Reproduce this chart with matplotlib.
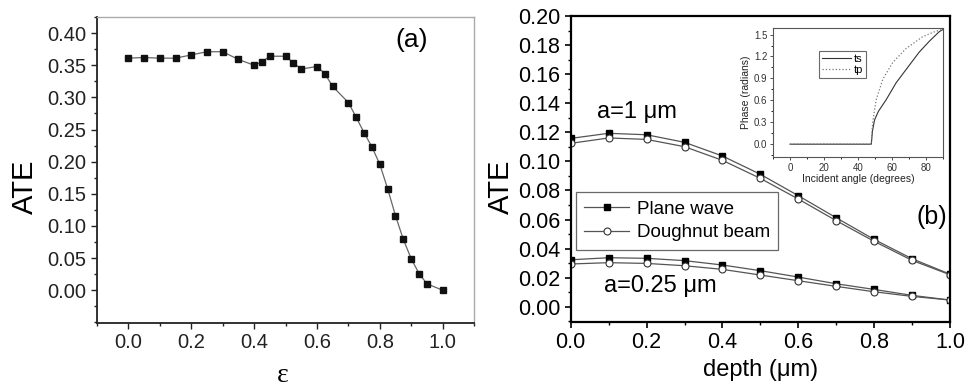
import matplotlib
matplotlib.use("Agg")
import matplotlib.pyplot as plt
from matplotlib.ticker import MultipleLocator
from matplotlib.lines import Line2D

plt.rcParams['font.family'] = ['Liberation Sans', 'DejaVu Sans']

# ---- Panel (a) data ----
eps = [0.0, 0.05, 0.1, 0.15, 0.2, 0.25, 0.3, 0.35, 0.4, 0.425, 0.45, 0.5, 0.525,
       0.55, 0.6, 0.625, 0.65, 0.7, 0.725, 0.75, 0.775, 0.8, 0.825, 0.85, 0.875,
       0.9, 0.925, 0.95, 1.0]
ate_a = [0.361, 0.362, 0.361, 0.361, 0.366, 0.371, 0.371, 0.359, 0.350, 0.355,
         0.364, 0.364, 0.354, 0.344, 0.348, 0.337, 0.317, 0.292, 0.269, 0.245,
         0.223, 0.196, 0.158, 0.116, 0.079, 0.049, 0.026, 0.010, 0.000]

# ---- Panel (b) data ----
depth = [0.0, 0.1, 0.2, 0.3, 0.4, 0.5, 0.6, 0.7, 0.8, 0.9, 1.0]
plane_a1 = [0.1158, 0.1193, 0.1183, 0.1131, 0.1037, 0.0911, 0.0764, 0.0612, 0.0463, 0.0330, 0.0224]
dough_a1 = [0.1124, 0.1161, 0.1151, 0.1101, 0.1007, 0.0883, 0.0741, 0.0592, 0.0450, 0.0319, 0.0220]
plane_a025 = [0.0323, 0.0337, 0.0333, 0.0317, 0.0287, 0.0248, 0.0204, 0.0158, 0.0119, 0.0078, 0.0046]
dough_a025 = [0.0294, 0.0303, 0.0298, 0.0282, 0.0257, 0.0218, 0.0179, 0.0140, 0.0103, 0.0071, 0.0046]

# ---- Inset data ----
ang_ts = [0, 10, 20, 30, 40, 47.8, 48.5, 49.7, 52, 56.6, 62.4, 69.2, 76, 82, 87.8, 90]
ts = [0, 0, 0, 0, 0, 0, 0.18, 0.33, 0.45, 0.61, 0.84, 1.05, 1.26, 1.41, 1.54, 1.57]
ang_tp = [0, 10, 20, 30, 40, 47.8, 48.3, 48.8, 50.7, 54.6, 60.5, 68.3, 78, 84, 87.8, 90]
tp = [0, 0, 0, 0, 0, 0, 0.20, 0.33, 0.61, 0.89, 1.12, 1.31, 1.47, 1.53, 1.56, 1.57]

fig = plt.figure(figsize=(9.67, 3.91), dpi=100)

# ===== Panel (a) =====
ax1 = fig.add_axes([0.1003, 0.1739, 0.3899, 0.7826])
ax1.plot(eps, ate_a, '-', color='#666666', lw=0.9, marker='s', ms=4.6,
         mfc='#111111', mec='#111111')
ax1.set_xlim(-0.1, 1.1)
ax1.set_ylim(-0.051, 0.425)
ax1.xaxis.set_minor_locator(MultipleLocator(0.1))
ax1.yaxis.set_minor_locator(MultipleLocator(0.025))
ax1.set_xticks([0.0, 0.2, 0.4, 0.6, 0.8, 1.0])
ax1.set_xticklabels(['0.0', '0.2', '0.4', '0.6', '0.8', '1.0'])
ax1.set_yticks([0.0, 0.05, 0.1, 0.15, 0.2, 0.25, 0.3, 0.35, 0.4])
ax1.set_yticklabels(['0.00', '0.05', '0.10', '0.15', '0.20', '0.25', '0.30', '0.35', '0.40'])
ax1.tick_params(which='major', direction='out', length=4.5, width=1.0, labelsize=14.5,
                colors='#222222', top=False, right=False, pad=3)
ax1.tick_params(which='minor', direction='out', length=2.5, width=1.0,
                colors='#222222', top=False, right=False)
for s in ['left', 'bottom']:
    ax1.spines[s].set_color('#222222')
    ax1.spines[s].set_linewidth(1.3)
for s in ['top', 'right']:
    ax1.spines[s].set_color('#aaaaaa')
    ax1.spines[s].set_linewidth(1.0)
ax1.text(0.9, 0.39, '(a)', fontsize=19, ha='center', va='center')
fig.text(25 / 967, 1 - 187 / 391, 'ATE', fontsize=21, rotation=90, ha='center', va='center')
fig.text(283 / 967, 1 - 376 / 391, 'ε', fontsize=20, family=['Liberation Serif', 'DejaVu Serif'],
         ha='center', va='center')

# ===== Panel (b) =====
ax2 = fig.add_axes([0.5902, 0.1765, 0.3922, 0.7826])
lc = '#555555'
ax2.plot(depth, plane_a1, '-', color=lc, lw=0.9, marker='s', ms=5, mfc='black', mec='black')
ax2.plot(depth, dough_a1, '-', color=lc, lw=0.9, marker='o', ms=5, mfc='white', mec='#333333', mew=0.8)
ax2.plot(depth, plane_a025, '-', color=lc, lw=0.9, marker='s', ms=5, mfc='black', mec='black')
ax2.plot(depth, dough_a025, '-', color=lc, lw=0.9, marker='o', ms=5, mfc='white', mec='#333333', mew=0.8)
ax2.set_xlim(0, 1.0)
ax2.set_ylim(-0.0105, 0.20)
ax2.xaxis.set_minor_locator(MultipleLocator(0.1))
ax2.yaxis.set_minor_locator(MultipleLocator(0.01))
ax2.set_xticks([0.0, 0.2, 0.4, 0.6, 0.8, 1.0])
ax2.set_xticklabels(['0.0', '0.2', '0.4', '0.6', '0.8', '1.0'])
ax2.set_yticks([0.0, 0.02, 0.04, 0.06, 0.08, 0.10, 0.12, 0.14, 0.16, 0.18, 0.20])
ax2.set_yticklabels(['0.00', '0.02', '0.04', '0.06', '0.08', '0.10', '0.12', '0.14',
                     '0.16', '0.18', '0.20'])
ax2.tick_params(which='major', direction='out', length=4.5, width=1.2, labelsize=15.5,
                colors='black', top=False, right=False, pad=3)
ax2.tick_params(which='minor', direction='out', length=2.5, width=1.0,
                top=False, right=False)
for s in ax2.spines.values():
    s.set_color('black')
    s.set_linewidth(1.6)
ax2.text(0.069, 0.130, 'a=1 μm', fontsize=17, ha='left', va='baseline')
ax2.text(0.088, 0.010, 'a=0.25 μm', fontsize=17, ha='left', va='baseline')
ax2.text(0.952, 0.062, '(b)', fontsize=18, ha='center', va='center')
h1 = Line2D([], [], color=lc, lw=0.9, marker='s', ms=5, mfc='black', mec='black')
h2 = Line2D([], [], color=lc, lw=0.9, marker='o', ms=5, mfc='white', mec='#333333', mew=0.8)
leg = ax2.legend([h1, h2], ['Plane wave', 'Doughnut beam'], loc='upper left',
                 bbox_to_anchor=(0.013, 0.425), fontsize=13.5, frameon=True, fancybox=False,
                 edgecolor='#444444', handlelength=2.4, handletextpad=0.4,
                 borderpad=0.45, labelspacing=0.35, borderaxespad=0)
leg.get_frame().set_linewidth(0.9)
fig.text(500.7 / 967, 1 - 187 / 391, 'ATE', fontsize=21, rotation=90, ha='center', va='center')
fig.text(760.7 / 967, 1 - 370 / 391, 'depth (μm)', fontsize=17, ha='center', va='center')

# ===== Inset =====
ax3 = fig.add_axes([0.7994, 0.5985, 0.1758, 0.3299])
ax3.plot(ang_ts, ts, '-', color='#333333', lw=0.8, label='ts')
ax3.plot(ang_tp, tp, ':', color='#777777', lw=0.9, label='tp')
ax3.set_xlim(-10, 90)
ax3.set_ylim(-0.175, 1.59)
ax3.set_xticks([0, 20, 40, 60, 80])
ax3.xaxis.set_minor_locator(MultipleLocator(10))
ax3.set_yticks([0.0, 0.3, 0.6, 0.9, 1.2, 1.5])
ax3.set_yticklabels(['0.0', '0.3', '0.6', '0.9', '1.2', '1.5'])
ax3.yaxis.set_minor_locator(MultipleLocator(0.15))
ax3.tick_params(which='major', direction='out', length=2.5, width=0.6, labelsize=7,
                colors='#333333', pad=1.5, top=False, right=False)
ax3.tick_params(which='minor', direction='out', length=1.5, width=0.6, top=False, right=False)
for s in ax3.spines.values():
    s.set_color('#555555')
    s.set_linewidth(0.8)
ax3.set_xlabel('Incident angle (degrees)', fontsize=7.5, labelpad=1, color='#222222')
ax3.set_ylabel('Phase (radians)', fontsize=7.5, labelpad=2, color='#222222')
lg3 = ax3.legend(loc='upper left', bbox_to_anchor=(0.27, 0.82), fontsize=8, frameon=True,
                 fancybox=False, edgecolor='#444444', handlelength=2.6, handletextpad=0.3,
                 borderpad=0.25, labelspacing=0.1, borderaxespad=0)
lg3.get_frame().set_linewidth(0.8)

fig.savefig('out.png', dpi=100)
